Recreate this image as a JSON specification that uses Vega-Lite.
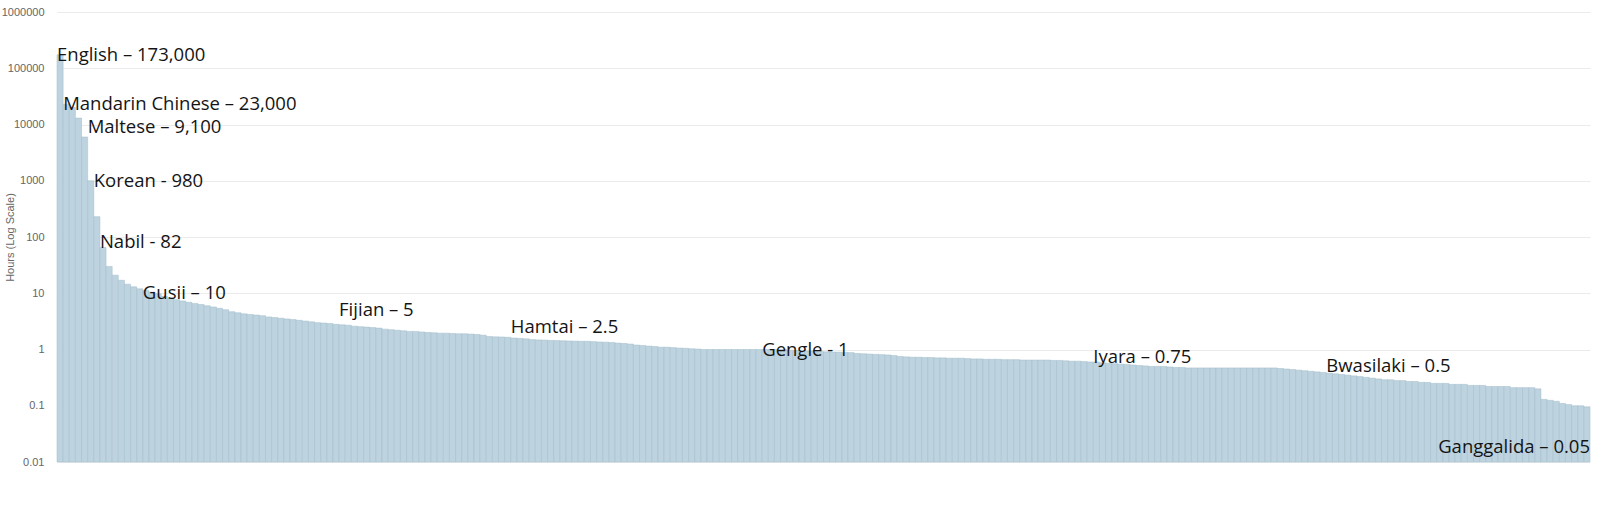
{
  "$schema": "https://vega.github.io/schema/vega-lite/v6.json",
  "width": 1533,
  "height": 450,
  "autosize": {"type": "none"},
  "padding": {"left": 57, "top": 12, "right": 7, "bottom": 43},
  "background": "white",
  "config": {"view": {"stroke": null}},
  "datasets": {
    "bars": [
      {"i":0,"h":173000},{"i":1,"h":23000},{"i":2,"h":20000},{"i":3,"h":13000},{"i":4,"h":6000},{"i":5,"h":1000},{"i":6,"h":230},{"i":7,"h":65},{"i":8,"h":30},{"i":9,"h":21},
      {"i":10,"h":17},{"i":11,"h":14.5},{"i":12,"h":13},{"i":13,"h":12},{"i":14,"h":11.2},{"i":15,"h":10.5},{"i":16,"h":9.8},{"i":17,"h":8.8},{"i":18,"h":8.2},{"i":19,"h":7.7},
      {"i":20,"h":7.3},{"i":21,"h":6.9},{"i":22,"h":6.6},{"i":23,"h":6.3},{"i":24,"h":6.0},{"i":25,"h":5.7},{"i":26,"h":5.4},{"i":27,"h":5.1},{"i":28,"h":4.7},{"i":29,"h":4.5},
      {"i":30,"h":4.3},{"i":31,"h":4.2},{"i":32,"h":4.1},{"i":33,"h":4.0},{"i":34,"h":3.8},{"i":35,"h":3.7},{"i":36,"h":3.6},{"i":37,"h":3.5},{"i":38,"h":3.4},{"i":39,"h":3.3},
      {"i":40,"h":3.2},{"i":41,"h":3.1},{"i":42,"h":3.0},{"i":43,"h":2.95},{"i":44,"h":2.9},{"i":45,"h":2.8},{"i":46,"h":2.75},{"i":47,"h":2.7},{"i":48,"h":2.6},{"i":49,"h":2.55},
      {"i":50,"h":2.5},{"i":51,"h":2.45},{"i":52,"h":2.4},{"i":53,"h":2.3},{"i":54,"h":2.25},{"i":55,"h":2.2},{"i":56,"h":2.15},{"i":57,"h":2.1},{"i":58,"h":2.1},{"i":59,"h":2.05},
      {"i":60,"h":2.0},{"i":61,"h":1.98},{"i":62,"h":1.95},{"i":63,"h":1.95},{"i":64,"h":1.92},{"i":65,"h":1.9},{"i":66,"h":1.9},{"i":67,"h":1.88},{"i":68,"h":1.85},{"i":69,"h":1.8},
      {"i":70,"h":1.7},{"i":71,"h":1.68},{"i":72,"h":1.67},{"i":73,"h":1.65},{"i":74,"h":1.6},{"i":75,"h":1.58},{"i":76,"h":1.55},{"i":77,"h":1.5},{"i":78,"h":1.48},{"i":79,"h":1.47},
      {"i":80,"h":1.45},{"i":81,"h":1.44},{"i":82,"h":1.43},{"i":83,"h":1.42},{"i":84,"h":1.41},{"i":85,"h":1.4},{"i":86,"h":1.4},{"i":87,"h":1.38},{"i":88,"h":1.36},{"i":89,"h":1.35},
      {"i":90,"h":1.33},{"i":91,"h":1.3},{"i":92,"h":1.28},{"i":93,"h":1.25},{"i":94,"h":1.2},{"i":95,"h":1.18},{"i":96,"h":1.15},{"i":97,"h":1.13},{"i":98,"h":1.1},{"i":99,"h":1.1},
      {"i":100,"h":1.08},{"i":101,"h":1.06},{"i":102,"h":1.05},{"i":103,"h":1.03},{"i":104,"h":1.02},{"i":105,"h":1.0},{"i":106,"h":1.0},{"i":107,"h":1.0},{"i":108,"h":1.0},{"i":109,"h":1.0},
      {"i":110,"h":1.0},{"i":111,"h":1.0},{"i":112,"h":1.0},{"i":113,"h":1.0},{"i":114,"h":1.0},{"i":115,"h":1.0},{"i":116,"h":1.0},{"i":117,"h":1.0},{"i":118,"h":1.0},{"i":119,"h":0.97},
      {"i":120,"h":0.96},{"i":121,"h":0.95},{"i":122,"h":0.94},{"i":123,"h":0.93},{"i":124,"h":0.92},{"i":125,"h":0.91},{"i":126,"h":0.9},{"i":127,"h":0.9},{"i":128,"h":0.89},{"i":129,"h":0.88},
      {"i":130,"h":0.85},{"i":131,"h":0.84},{"i":132,"h":0.83},{"i":133,"h":0.82},{"i":134,"h":0.81},{"i":135,"h":0.8},{"i":136,"h":0.78},{"i":137,"h":0.75},{"i":138,"h":0.74},{"i":139,"h":0.73},
      {"i":140,"h":0.73},{"i":141,"h":0.72},{"i":142,"h":0.72},{"i":143,"h":0.71},{"i":144,"h":0.71},{"i":145,"h":0.7},{"i":146,"h":0.7},{"i":147,"h":0.7},{"i":148,"h":0.69},{"i":149,"h":0.68},
      {"i":150,"h":0.68},{"i":151,"h":0.67},{"i":152,"h":0.67},{"i":153,"h":0.67},{"i":154,"h":0.66},{"i":155,"h":0.66},{"i":156,"h":0.66},{"i":157,"h":0.65},{"i":158,"h":0.65},{"i":159,"h":0.65},
      {"i":160,"h":0.65},{"i":161,"h":0.65},{"i":162,"h":0.64},{"i":163,"h":0.64},{"i":164,"h":0.63},{"i":165,"h":0.62},{"i":166,"h":0.62},{"i":167,"h":0.61},{"i":168,"h":0.6},{"i":169,"h":0.6},
      {"i":170,"h":0.58},{"i":171,"h":0.57},{"i":172,"h":0.56},{"i":173,"h":0.55},{"i":174,"h":0.54},{"i":175,"h":0.53},{"i":176,"h":0.52},{"i":177,"h":0.51},{"i":178,"h":0.5},{"i":179,"h":0.5},
      {"i":180,"h":0.5},{"i":181,"h":0.49},{"i":182,"h":0.48},{"i":183,"h":0.48},{"i":184,"h":0.47},{"i":185,"h":0.47},{"i":186,"h":0.47},{"i":187,"h":0.47},{"i":188,"h":0.47},{"i":189,"h":0.47},
      {"i":190,"h":0.47},{"i":191,"h":0.47},{"i":192,"h":0.47},{"i":193,"h":0.47},{"i":194,"h":0.47},{"i":195,"h":0.47},{"i":196,"h":0.47},{"i":197,"h":0.47},{"i":198,"h":0.47},{"i":199,"h":0.46},
      {"i":200,"h":0.45},{"i":201,"h":0.44},{"i":202,"h":0.43},{"i":203,"h":0.42},{"i":204,"h":0.41},{"i":205,"h":0.4},{"i":206,"h":0.39},{"i":207,"h":0.38},{"i":208,"h":0.37},{"i":209,"h":0.36},
      {"i":210,"h":0.35},{"i":211,"h":0.34},{"i":212,"h":0.33},{"i":213,"h":0.32},{"i":214,"h":0.31},{"i":215,"h":0.3},{"i":216,"h":0.29},{"i":217,"h":0.29},{"i":218,"h":0.28},{"i":219,"h":0.28},
      {"i":220,"h":0.27},{"i":221,"h":0.27},{"i":222,"h":0.26},{"i":223,"h":0.26},{"i":224,"h":0.25},{"i":225,"h":0.25},{"i":226,"h":0.25},{"i":227,"h":0.24},{"i":228,"h":0.24},{"i":229,"h":0.24},
      {"i":230,"h":0.23},{"i":231,"h":0.23},{"i":232,"h":0.23},{"i":233,"h":0.22},{"i":234,"h":0.22},{"i":235,"h":0.22},{"i":236,"h":0.22},{"i":237,"h":0.21},{"i":238,"h":0.21},{"i":239,"h":0.21},
      {"i":240,"h":0.21},{"i":241,"h":0.2},{"i":242,"h":0.13},{"i":243,"h":0.125},{"i":244,"h":0.12},{"i":245,"h":0.11},{"i":246,"h":0.105},{"i":247,"h":0.1},{"i":248,"h":0.1},{"i":249,"h":0.095}
    ],
    "labels": [
      {"i":0,"hours":173000,"label":"English – 173,000","side":"left"},
      {"i":1,"hours":23000,"label":"Mandarin Chinese – 23,000","side":"left"},
      {"i":5,"hours":9100,"label":"Maltese – 9,100","side":"left"},
      {"i":6,"hours":980,"label":"Korean - 980","side":"left"},
      {"i":7,"hours":82,"label":"Nabil - 82","side":"left"},
      {"i":14,"hours":10,"label":"Gusii – 10","side":"left"},
      {"i":46,"hours":5,"label":"Fijian – 5","side":"left"},
      {"i":74,"hours":2.5,"label":"Hamtai – 2.5","side":"left"},
      {"i":115,"hours":1,"label":"Gengle - 1","side":"left"},
      {"i":169,"hours":0.75,"label":"Iyara – 0.75","side":"left"},
      {"i":207,"hours":0.5,"label":"Bwasilaki – 0.5","side":"left"},
      {"i":249,"hours":0.05,"label":"Ganggalida – 0.05","side":"right"}
    ]
  },
  "layer": [
    {
      "data": {"name": "bars"},
      "mark": {"type": "bar", "color": "#bdd3df", "stroke": "#a3bccb", "strokeWidth": 0.5},
      "encoding": {
        "x": {"field": "i", "type": "ordinal", "axis": null, "scale": {"paddingInner": 0, "paddingOuter": 0}},
        "y": {
          "field": "h", "type": "quantitative",
          "scale": {"type": "log", "domain": [0.01, 1000000], "nice": false},
          "axis": {
            "title": "Hours (Log Scale)",
            "values": [0.01, 0.1, 1, 10, 100, 1000, 10000, 100000, 1000000],
            "labelExpr": "datum.value >= 1 ? format(datum.value, 'd') : format(datum.value, '~g')",
            "domain": false, "ticks": false, "tickSize": 0, "labelPadding": 13,
            "labelFont": "Liberation Sans", "labelFontSize": 11, "labelColor": "#666666",
            "titleFont": "Liberation Sans", "titleFontSize": 11, "titleFontWeight": "normal", "titleColor": "#666666",
            "titleX": -47, "titleY": 225, "titleAngle": -90, "titleAlign": "center", "titleBaseline": "middle",
            "gridColor": "#ebebeb", "gridWidth": 1
          }
        },
        "y2": {"datum": 0.01}
      }
    },
    {
      "data": {"name": "labels"},
      "transform": [{"filter": "datum.side === 'left'"}],
      "mark": {"type": "text", "align": "left", "baseline": "middle", "font": "Open Sans", "fontSize": 18.5, "color": "#141414"},
      "encoding": {
        "x": {"field": "i", "type": "ordinal", "bandPosition": 0},
        "y": {"field": "hours", "type": "quantitative"},
        "text": {"field": "label"}
      }
    },
    {
      "data": {"name": "labels"},
      "transform": [{"filter": "datum.side === 'right'"}],
      "mark": {"type": "text", "align": "right", "baseline": "middle", "font": "Open Sans", "fontSize": 18.5, "color": "#141414", "dy": 24},
      "encoding": {
        "x": {"field": "i", "type": "ordinal", "bandPosition": 1},
        "y": {"field": "hours", "type": "quantitative"},
        "text": {"field": "label"}
      }
    }
  ]
}
